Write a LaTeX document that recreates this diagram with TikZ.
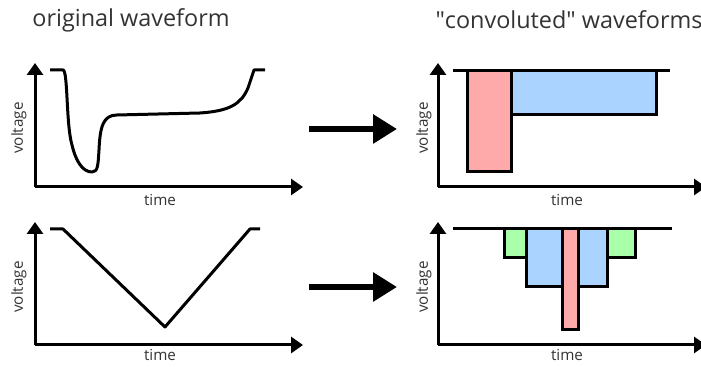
\documentclass[tikz,border=0pt]{standalone}
\usepackage{fontspec}
\setmainfont{Open Sans}
\usetikzlibrary{arrows.meta,positioning,calc}

\definecolor{txtgray}{HTML}{333333}
\definecolor{pulsered}{HTML}{FFAAAA}
\definecolor{pulseblue}{HTML}{AAD4FF}
\definecolor{pulsegreen}{HTML}{AAFFAA}

\begin{document}
\begin{tikzpicture}[
  x=0.5pt, y=-0.5pt,
  axis/.style={-{Triangle[length=6pt,width=8pt]}, line width=1.5pt},
  wave/.style={line width=1.5pt, line join=round},
  pulse/.style={draw, line width=1.5pt},
  bigarr/.style={-{Triangle[length=12pt,width=14pt]}, line width=3.3pt},
  title/.style={font=\fontsize{11.7pt}{13pt}\selectfont, text=txtgray, inner sep=0pt},
  axlabel/.style={font=\fontsize{7.6pt}{9pt}\selectfont, text=txtgray, inner sep=0pt},
]
\useasboundingbox (0,0) rectangle (701,367);

% ── titles ──────────────────────────────────────────────────────────────────
\node[title] (orig) at (131,20) {original waveform};
\node[title] (conv) at (569,20) {\textquotedbl convoluted\textquotedbl{} waveforms};

% ── axes origins ────────────────────────────────────────────────────────────
\coordinate (o1) at (35,187);
\coordinate (o2) at (438,187);
\coordinate (o3) at (35,345);
\coordinate (o4) at (438,345);

% ── top left: original pulse ────────────────────────────────────────────────
\draw[axis] (o1) -- ++(0,-124);
\draw[axis] (o1) -- ++(268,0);
\node[axlabel, rotate=90] (v1) at (19,128) {voltage};
\node[axlabel] (t1) at (160,200) {time};
\draw[wave] (50,70) -- (63,70)
  .. controls (68,70) and (66,125) .. (72,145)
  .. controls (76,162) and (83,172) .. (92,172)
  .. controls (98,172) and (98,165) .. (99,150)
  .. controls (100,127) and (103,115) .. (117,115)
  -- (200,113)
  .. controls (230,111) and (241,104) .. (248,88)
  -- (254,70) -- (265,70);

% ── top right: two rectangles ───────────────────────────────────────────────
\draw[axis] (o2) -- ++(0,-124);
\draw[axis] (o2) -- ++(268,0);
\node[axlabel, rotate=90] (v2) at (424,128) {voltage};
\node[axlabel] (t2) at (567,200) {time};
\draw[pulse, fill=pulsered]  (467,71) rectangle (511,172);
\draw[pulse, fill=pulseblue] (511,71) rectangle (656,115);
\draw[wave] (453,71) -- (670,71);

% ── bottom left: triangle ───────────────────────────────────────────────────
\draw[axis] (o3) -- ++(0,-123);
\draw[axis] (o3) -- ++(268,0);
\node[axlabel, rotate=90] (v3) at (19,287) {voltage};
\node[axlabel] (t3) at (160,355) {time};
\draw[wave] (50,229) -- (63,229) -- (165,327) -- (250,229) -- (260,229);

% ── bottom right: staircase of rectangles ───────────────────────────────────
\draw[axis] (o4) -- ++(0,-123);
\draw[axis] (o4) -- ++(268,0);
\node[axlabel, rotate=90] (v4) at (424,287) {voltage};
\node[axlabel] (t4) at (567,355) {time};
\draw[pulse, fill=pulsegreen] (504,229) rectangle (526,258);
\draw[pulse, fill=pulsegreen] (607,229) rectangle (635,258);
\draw[pulse, fill=pulseblue]  (526,229) rectangle (562,287);
\draw[pulse, fill=pulseblue]  (578,229) rectangle (607,287);
\draw[pulse, fill=pulsered]   (562,229) rectangle (578,330);
\draw[wave] (453,229) -- (672,229);

% ── arrows between panels ───────────────────────────────────────────────────
\coordinate (a1) at (309,129);
\coordinate (b1) at (397,129);
\coordinate (a2) at (309,287);
\coordinate (b2) at (397,287);
\draw[bigarr] (a1) -- (b1);
\draw[bigarr] (a2) -- (b2);
\end{tikzpicture}
\end{document}
